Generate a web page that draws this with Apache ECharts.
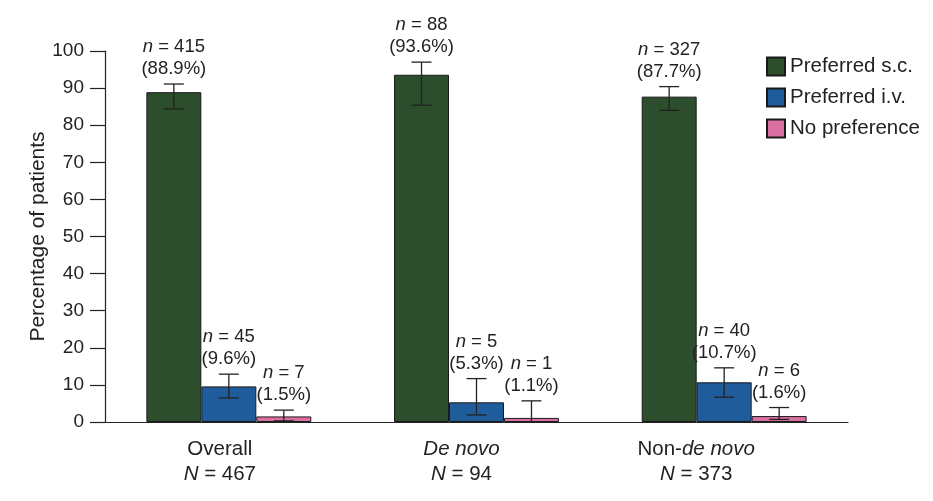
<!DOCTYPE html>
<html>
<head>
<meta charset="utf-8">
<script src="https://cdn.jsdelivr.net/npm/echarts@6/dist/echarts.min.js"></script>
<style>html,body{margin:0;padding:0;background:#fff;}#c{width:933px;height:501px;}</style>
</head>
<body>
<div id="c"></div>
<script>
var categories = ['Overall', 'De novo', 'Non-de novo'];
var categoryN = [467, 94, 373];
var seriesNames = ['Preferred s.c.', 'Preferred i.v.', 'No preference'];
var scValues = [88.9, 93.6, 87.7];
var ivValues = [9.6, 5.3, 10.7];
var noPrefValues = [1.5, 1.1, 1.6];
var scCounts = [415, 88, 327];
var ivCounts = [45, 5, 40];
var noPrefCounts = [7, 1, 6];
var scErrLow = [84.4, 85.4, 84.0];
var scErrHigh = [91.1, 97.0, 90.4];
var ivErrLow = [6.5, 1.9, 6.7];
var ivErrHigh = [12.9, 11.7, 14.6];
var noPrefErrLow = [0.3, 0.0, 0.7];
var noPrefErrHigh = [3.2, 5.7, 3.9];
var yTicks = [0, 10, 20, 30, 40, 50, 60, 70, 80, 90, 100];

var colors = ['#2c4e2c', '#1f5c9c', '#dc6fa2'];
var FONT = 'Liberation Sans, Arial, Helvetica, sans-serif';
var TXT = '#222';
var barFrac = 0.222;
// horizontal nudge (px, negative = left) of each category label as in the source figure
var labelShift = [-9, -15, -28];

var values = [scValues, ivValues, noPrefValues];
var counts = [scCounts, ivCounts, noPrefCounts];
var lows = [scErrLow, ivErrLow, noPrefErrLow];
var highs = [scErrHigh, ivErrHigh, noPrefErrHigh];

var series = [];
for (var s = 0; s < 3; s++) {
  series.push({
    name: seriesNames[s],
    type: 'bar',
    data: values[s],
    barWidth: (barFrac * 100) + '%',
    barGap: '0%',
    itemStyle: { color: colors[s], borderColor: '#1a1a1a', borderWidth: 1 },
    z: 2
  });
}

var errData = [];
for (var s2 = 0; s2 < 3; s2++) {
  for (var c = 0; c < categories.length; c++) {
    errData.push([c, lows[s2][c], highs[s2][c], values[s2][c], counts[s2][c], s2]);
  }
}

series.push({
  type: 'custom',
  name: 'err',
  data: errData,
  encode: { x: 0, y: [1, 2] },
  z: 10,
  clip: false,
  renderItem: function (params, api) {
    var ci = api.value(0);
    var lo = api.value(1), hi = api.value(2), v = api.value(3), n = api.value(4), si = api.value(5);
    var band = api.size([1, 0])[0];
    var bw = band * barFrac;
    var off = (si - 1) * bw;
    var pHi = api.coord([ci, hi]);
    var pLo = api.coord([ci, lo]);
    var x = pHi[0] + off;
    var cap = 10;
    var ls = { stroke: '#222', lineWidth: 1.3 };
    return {
      type: 'group',
      children: [
        { type: 'line', shape: { x1: x, y1: pHi[1], x2: x, y2: pLo[1] }, style: ls },
        { type: 'line', shape: { x1: x - cap, y1: pHi[1], x2: x + cap, y2: pHi[1] }, style: ls },
        { type: 'line', shape: { x1: x - cap, y1: pLo[1], x2: x + cap, y2: pLo[1] }, style: ls },
        {
          type: 'text',
          style: {
            x: x, y: pHi[1] - 4,
            text: '{i|n} = ' + n + '\n(' + v.toFixed(1) + '%)',
            align: 'center', verticalAlign: 'bottom',
            fontSize: 18.5, fontFamily: FONT, fill: TXT, lineHeight: 22,
            rich: { i: { fontStyle: 'italic', fontSize: 18.5, fontFamily: FONT, fill: TXT, lineHeight: 22 } }
          }
        }
      ]
    };
  }
});

var xRich = { i: { fontStyle: 'italic', fontSize: 20.5, fontFamily: FONT, color: TXT, lineHeight: 25 } };
for (var k = 0; k < labelShift.length; k++) {
  xRich['sp' + k] = { width: Math.abs(labelShift[k]) * 2, lineHeight: 25 };
}

var chart = echarts.init(document.getElementById('c'));
chart.setOption({
  animation: false,
  backgroundColor: '#fff',
  color: colors,
  legend: {
    data: seriesNames,
    orient: 'vertical',
    left: 766, top: 56, padding: 0,
    itemWidth: 18, itemHeight: 18, itemGap: 10,
    icon: 'rect',
    textStyle: { fontSize: 20.5, fontFamily: FONT, color: TXT, padding: [0, 0, 0, 0] }
  },
  grid: { left: 105, right: 85, top: 51, bottom: 79, containLabel: false },
  xAxis: {
    type: 'category',
    data: categories,
    axisLine: { lineStyle: { color: '#222', width: 1.2 } },
    axisTick: { length: 15, lineStyle: { color: '#222', width: 1.2 } },
    axisLabel: {
      interval: 0,
      hideOverlap: false,
      margin: 15,
      fontSize: 20.5, fontFamily: FONT, color: TXT, lineHeight: 25,
      formatter: function (val, idx) {
        var top;
        if (val === 'De novo') top = '{i|De novo}';
        else if (val === 'Non-de novo') top = 'Non-{i|de novo}';
        else top = val;
        var sp = labelShift[idx] < 0 ? '{sp' + idx + '|}' : '';
        var pre = labelShift[idx] > 0 ? '{sp' + idx + '|}' : '';
        return pre + top + sp + '\n' + pre + '{i|N} = ' + categoryN[idx] + sp;
      },
      rich: xRich
    }
  },
  yAxis: {
    type: 'value',
    min: yTicks[0], max: yTicks[yTicks.length - 1], interval: 10,
    name: 'Percentage of patients',
    nameLocation: 'middle', nameGap: 56, nameRotate: 90,
    nameMoveOverlap: false,
    nameTextStyle: { fontSize: 21, fontFamily: FONT, color: TXT },
    axisLine: { show: true, lineStyle: { color: '#222', width: 1.2 } },
    axisTick: { show: true, length: 15, lineStyle: { color: '#222', width: 1.2 } },
    splitLine: { show: false },
    axisLabel: { margin: 21, fontSize: 19, fontFamily: FONT, color: TXT }
  },
  series: series
});
</script>
</body>
</html>
